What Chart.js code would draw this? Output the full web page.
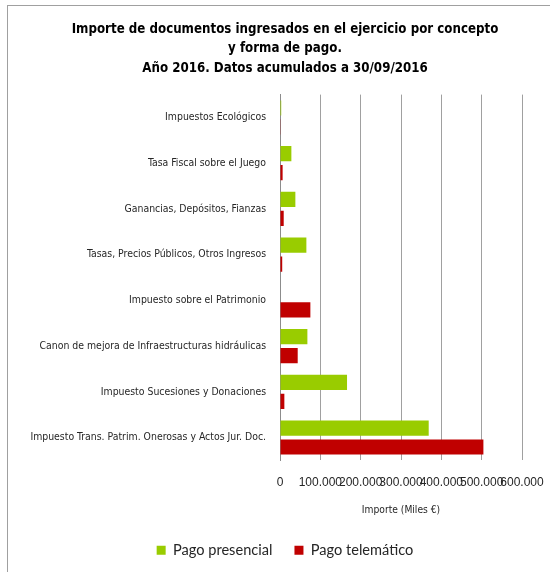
<!DOCTYPE html>
<html lang="es">
<head>
  <meta charset="UTF-8" />
  <title>Importe de documentos ingresados</title>
  <script src="https://cdn.jsdelivr.net/npm/chart.js"></script>
  <style>
    html, body {
      margin: 0;
      padding: 0;
      background: #ffffff;
    }
    .marco {
      position: absolute;
      left: 7px;
      top: 5px;
      width: 600px;
      height: 600px;
      border-left: 1px solid #a0a0a0;
      border-top: 1px solid #a0a0a0;
    }
    .grafica {
      position: absolute;
      left: 0;
      top: 0;
      width: 550px;
      height: 572px;
    }
  </style>
</head>
<body>
  <div class="marco"></div>
  <div class="grafica">
    <canvas id="canvasGrafica" width="550" height="572"></canvas>
  </div>

  <script>
    const titulo = [
      'Importe de documentos ingresados en el ejercicio por concepto',
      'y forma de pago.',
      'Año 2016. Datos acumulados a 30/09/2016'
    ];
    const conceptos = [
      'Impuestos Ecológicos',
      'Tasa Fiscal sobre el Juego',
      'Ganancias, Depósitos, Fianzas',
      'Tasas, Precios Públicos, Otros Ingresos',
      'Impuesto sobre el Patrimonio',
      'Canon de mejora de Infraestructuras hidráulicas',
      'Impuesto Sucesiones y Donaciones',
      'Impuesto Trans. Patrim. Onerosas y Actos Jur. Doc.'
    ];
    // miles de euros
    const pagoPresencial = [3000, 28200, 38100, 65400, 0, 67900, 166200, 368700];
    const pagoTelematico = [800, 6500, 9200, 5500, 75300, 43900, 10800, 504300];
    const ticksX = [0, 100000, 200000, 300000, 400000, 500000, 600000];

    const narrow = "'DejaVu Sans Condensed', 'Liberation Sans', sans-serif";

    function formatoMiles(v) {
      return String(v).replace(/\B(?=(\d{3})+(?!\d))/g, '.');
    }

    // las etiquetas largas del eje Y sobresalen a la izquierda: no recortarlas
    const sinRecorte = {
      id: 'sinRecorte',
      afterLayout(chart) {
        chart.scales.y.left = 0;
      }
    };

    const ctx = document.getElementById('canvasGrafica').getContext('2d');
    window.grafica = new Chart(ctx, {
      type: 'bar',
      data: {
        labels: conceptos,
        datasets: [
          {
            label: 'Pago presencial',
            data: pagoPresencial,
            backgroundColor: '#99cc00',
            borderWidth: 0
          },
          {
            label: 'Pago telemático',
            data: pagoTelematico,
            backgroundColor: '#c00000',
            borderWidth: 0
          }
        ]
      },
      plugins: [sinRecorte],
      options: {
        indexAxis: 'y',
        responsive: false,
        animation: false,
        datasets: {
          bar: { barPercentage: 0.8, categoryPercentage: 0.83 }
        },
        layout: { padding: { left: 48, right: 28, top: 0, bottom: 4.5 } },
        plugins: {
          title: {
            display: true,
            text: titulo,
            color: '#000000',
            font: { family: narrow, size: 13.2, weight: 'bold', lineHeight: 1.48 },
            padding: { top: 19.5, bottom: 16.5 }
          },
          legend: {
            position: 'bottom',
            labels: {
              color: '#262626',
              boxWidth: 9,
              boxHeight: 9,
              padding: 22,
              font: { family: "Lato, 'Open Sans', sans-serif", size: 14.6 }
            }
          },
          tooltip: { enabled: false }
        },
        scales: {
          x: {
            min: 0,
            max: 600000,
            afterBuildTicks: (s) => { s.ticks = ticksX.map(v => ({ value: v })); },
            afterFit: (s) => { s.height = 60.5; s.paddingLeft = 0; s.paddingRight = 0; },
            grid: { color: '#a0a0a0', lineWidth: 1, drawTicks: false },
            border: { display: false },
            ticks: {
              autoSkip: false,
              maxRotation: 0,
              padding: 15,
              color: '#262626',
              font: { family: "'Liberation Sans', sans-serif", size: 12 },
              callback: (v) => formatoMiles(v)
            },
            title: {
              display: true,
              text: 'Importe (Miles €)',
              color: '#262626',
              font: { family: narrow, size: 10.2 },
              padding: { top: 2, bottom: 4.4 }
            }
          },
          y: {
            afterFit: (s) => { s.width = 232; s.paddingTop = 0; s.paddingBottom = 0; },
            grid: { display: false, drawTicks: false },
            border: { display: true, color: '#8c8c8c', width: 1 },
            ticks: {
              padding: 14,
              color: '#262626',
              font: { family: narrow, size: 10.4 }
            }
          }
        }
      }
    });
  </script>
</body>
</html>
